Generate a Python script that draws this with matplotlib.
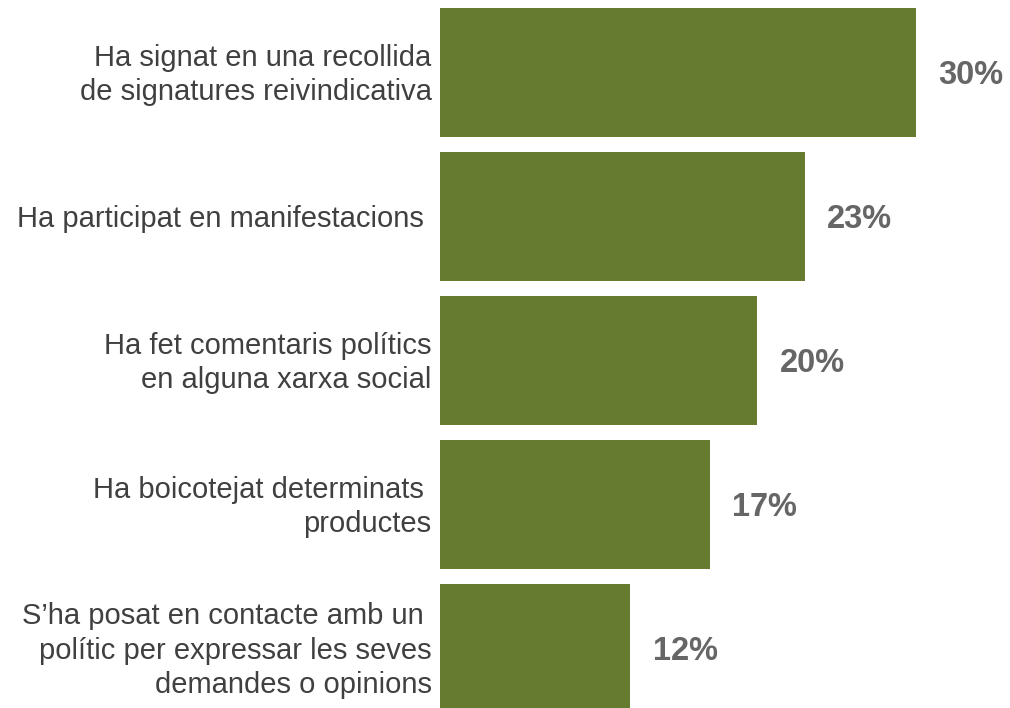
import matplotlib
matplotlib.use('Agg')
import matplotlib.pyplot as plt

plt.rcParams['font.family'] = ['Liberation Sans', 'DejaVu Sans']

categories = [
    'Ha signat en una recollida\nde signatures reivindicativa',
    'Ha participat en manifestacions ',
    'Ha fet comentaris polítics\nen alguna xarxa social',
    'Ha boicotejat determinats \nproductes',
    'S\u2019ha posat en contacte amb un \npolític per expressar les seves\ndemandes o opinions',
]
values = [30, 23, 20, 17, 12]

bar_color = '#667a30'

fig = plt.figure(figsize=(10.1, 7.08), dpi=100)
ax = fig.add_axes([440 / 1010, 0, 1 - 440 / 1010, 1])

pos = list(range(len(values)))
ax.barh(pos, values, height=0.9, color=bar_color)
ax.set_xlim(0, 570 / 15.87)
ax.set_ylim(708 / 144 - 72.5 / 144, -72.5 / 144)

# valors al final de cada barra
for p, v in zip(pos, values):
    ax.annotate('%d%%' % v, (v, p), xytext=(16, -2), textcoords='offset points',
                ha='left', va='center', fontsize=23.5, fontweight='bold', color='#666666')

# etiquetes de categoria a l'esquerra
for p, c in zip(pos, categories):
    ax.annotate(c, (0, p), xytext=(-6, -1.5), textcoords='offset points',
                ha='right', va='center', fontsize=21, color='#404040',
                linespacing=1.28, annotation_clip=False)

ax.set_xticks([])
ax.set_yticks([])
for s in ax.spines.values():
    s.set_visible(False)

fig.savefig('out.png', dpi=100)
